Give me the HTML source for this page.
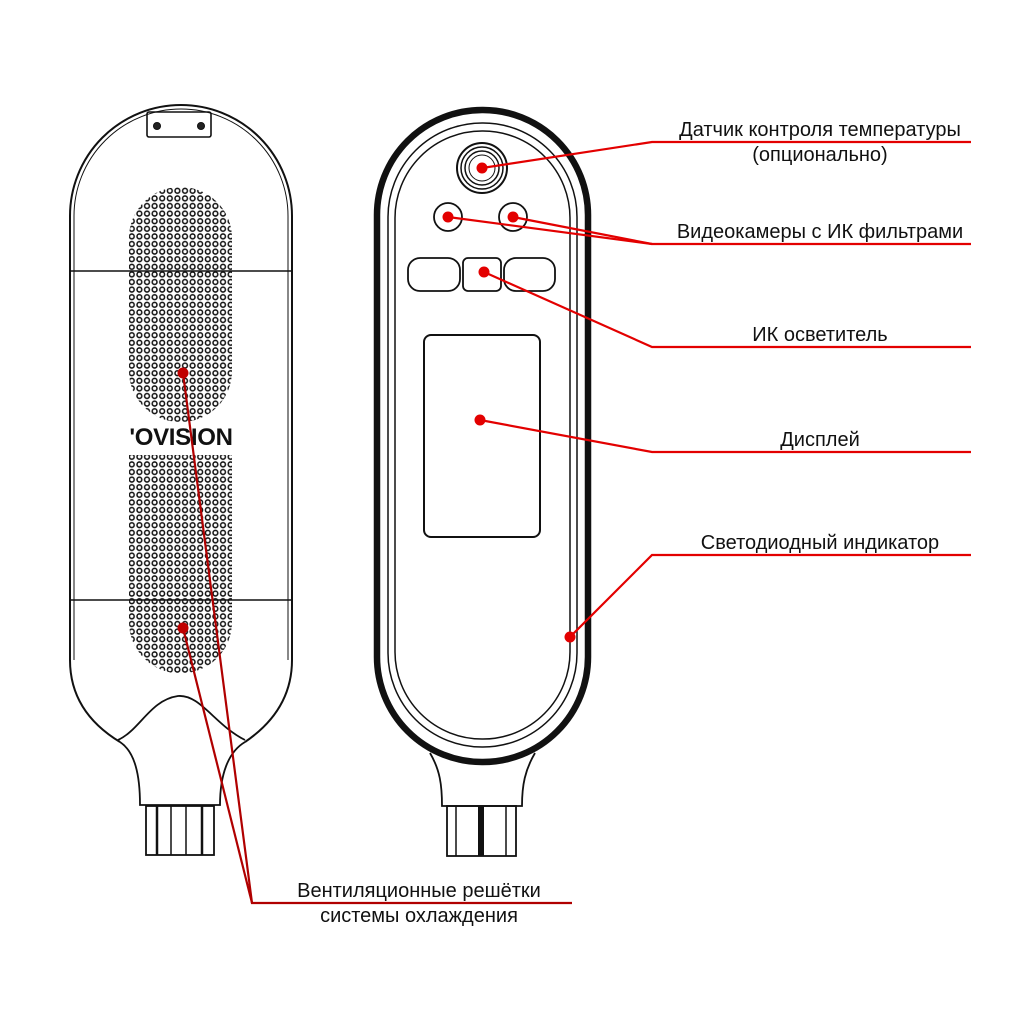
<!DOCTYPE html>
<html><head><meta charset="utf-8"><style>
html,body{margin:0;padding:0;background:#fff}
svg{display:block}
text{font-family:"Liberation Sans",sans-serif;font-size:20px;fill:#111}
</style></head><body>
<svg width="1024" height="1024" viewBox="0 0 1024 1024" xmlns="http://www.w3.org/2000/svg">
<defs>
<pattern id="dots" x="128" y="187" width="7.6" height="7.6" patternUnits="userSpaceOnUse">
<circle cx="3.8" cy="3.8" r="2.4" fill="none" stroke="#111" stroke-width="1.5"/>
</pattern>
<clipPath id="g1"><rect x="129" y="187" width="103" height="235" rx="51"/></clipPath>
<clipPath id="g2"><path d="M129 455 H232 V622 A51.5 51.5 0 0 1 129 622 Z"/></clipPath>
</defs>
<!-- LEFT DEVICE -->
<g fill="none" stroke="#111">
<path d="M70 660 V216 A111 111 0 0 1 292 216 V660 C292 700 270 725 245 742 M70 660 C70 700 92 725 120 742" stroke-width="2"/>
<path d="M74 660 V216 A107 107 0 0 1 288 216 V660" stroke-width="1"/>
<line x1="70" y1="271" x2="292" y2="271" stroke-width="1.5"/>
<line x1="70" y1="600" x2="292" y2="600" stroke-width="1.5"/>
<rect x="147" y="112" width="64" height="25" rx="2" stroke-width="1.6"/>
<circle cx="157" cy="126" r="3.5" fill="#222"/>
<circle cx="201" cy="126" r="3.5" fill="#222"/>
<path d="M118 740 C140 730 150 700 178 696 C200 694 215 725 245 740" stroke-width="1.8"/>
<path d="M120 742 C135 752 140 775 140 805 H220 C220 775 228 752 245 742" stroke-width="1.8"/>
<rect x="146" y="806" width="68" height="49" stroke-width="1.8"/>
<line x1="157" y1="806" x2="157" y2="855" stroke-width="2.5"/>
<line x1="171" y1="806" x2="171" y2="855" stroke-width="1.5"/>
<line x1="186" y1="806" x2="186" y2="855" stroke-width="1.5"/>
<line x1="202" y1="806" x2="202" y2="855" stroke-width="2.5"/>
</g>
<rect x="128" y="187" width="106" height="240" fill="url(#dots)" clip-path="url(#g1)"/>
<rect x="128" y="452" width="106" height="225" fill="url(#dots)" clip-path="url(#g2)"/>
<rect x="125" y="423" width="112" height="30" fill="#fff"/>
<text x="181" y="445" text-anchor="middle" style="font-size:24px;font-weight:bold;letter-spacing:-0.3px">'OVISION</text>
<!-- RIGHT DEVICE -->
<g fill="none" stroke="#111">
<rect x="377" y="110" width="211" height="652" rx="105" stroke-width="6.5"/>
<rect x="388" y="123" width="189" height="624" rx="94" stroke-width="1.5"/>
<rect x="395" y="131" width="175" height="608" rx="87" stroke-width="1.5"/>
<circle cx="482" cy="168" r="25" stroke-width="2"/>
<circle cx="482" cy="168" r="21" stroke-width="1.5"/>
<circle cx="482" cy="168" r="17" stroke-width="1.5"/>
<circle cx="482" cy="168" r="13" stroke-width="1"/>
<circle cx="448" cy="217" r="14" stroke-width="1.8"/>
<circle cx="513" cy="217" r="14" stroke-width="1.8"/>
<rect x="408" y="258" width="52" height="33" rx="12" stroke-width="1.8"/>
<rect x="463" y="258" width="38" height="33" rx="5" stroke-width="1.8"/>
<rect x="504" y="258" width="51" height="33" rx="12" stroke-width="1.8"/>
<rect x="424" y="335" width="116" height="202" rx="7" stroke-width="2"/>
<path d="M430 753 C440 770 442 785 442 806 H522 C522 785 525 770 535 753" stroke-width="1.8"/>
<rect x="447" y="806" width="69" height="50" stroke-width="1.8"/>
<line x1="456" y1="806" x2="456" y2="856" stroke-width="1.5"/>
<line x1="506" y1="806" x2="506" y2="856" stroke-width="1.5"/>
<line x1="481" y1="806" x2="481" y2="856" stroke-width="6"/>
</g>
<!-- LEADERS -->
<g stroke="#e30000" stroke-width="2.2" fill="none">
<polyline points="482,168 652,142 971,142"/>
<polyline points="448,217 652,244 971,244"/>
<polyline points="513,217 652,244"/>
<polyline points="484,272 652,347 971,347"/>
<polyline points="480,420 652,452 971,452"/>
<polyline points="570,637 652,555 971,555"/>
</g>
<g stroke="#b00000" stroke-width="2.2" fill="none">
<polyline points="183,373 252,903 572,903"/>
<polyline points="183,628 252,903"/>
</g>
<g fill="#e30000">
<circle cx="482" cy="168" r="5.5"/><circle cx="448" cy="217" r="5.5"/><circle cx="513" cy="217" r="5.5"/>
<circle cx="484" cy="272" r="5.5"/><circle cx="480" cy="420" r="5.5"/><circle cx="570" cy="637" r="5.5"/>
</g>
<g fill="#c00000"><circle cx="183" cy="373" r="5.5"/><circle cx="183" cy="628" r="5.5"/></g>
<!-- LABELS -->
<text x="820" y="136" text-anchor="middle">Датчик контроля температуры</text>
<text x="820" y="161" text-anchor="middle">(опционально)</text>
<text x="820" y="238" text-anchor="middle">Видеокамеры с ИК фильтрами</text>
<text x="820" y="341" text-anchor="middle">ИК осветитель</text>
<text x="820" y="446" text-anchor="middle">Дисплей</text>
<text x="820" y="549" text-anchor="middle">Светодиодный индикатор</text>
<text x="419" y="897" text-anchor="middle">Вентиляционные решётки</text>
<text x="419" y="922" text-anchor="middle">системы охлаждения</text>
</svg>
</body></html>
